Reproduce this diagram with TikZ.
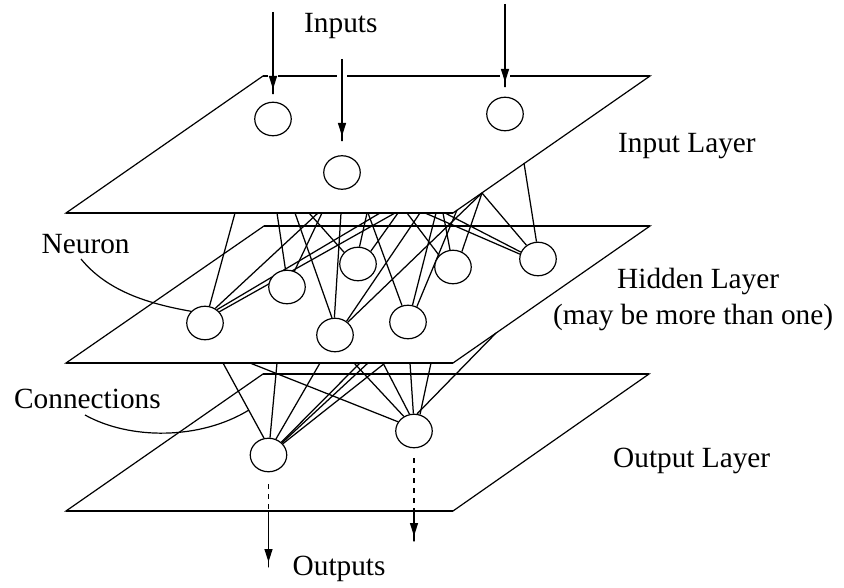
\documentclass[tikz,border=0pt]{standalone}
\usepackage{fontspec}
\setmainfont{Liberation Serif}
\usetikzlibrary{arrows.meta,shapes.geometric}
\pgfdeclarelayer{back}
\pgfdeclarelayer{mid}
\pgfsetlayers{back,mid,main}
\begin{document}
\begin{tikzpicture}[x=1pt,y=-1pt,
  neuron/.style={ellipse,draw,fill=white,minimum width=36.5pt,minimum height=33.5pt,inner sep=0pt,line width=1.2pt},
  plane/.style={draw,fill=white,line width=1.2pt,line join=miter},
  planeedge/.style={line width=2pt},
  conn/.style={line width=1.25pt},
  pointer/.style={line width=1.2pt},
  lbl/.style={font=\fontsize{29.3}{35}\selectfont,inner sep=0pt,anchor=base west},
  halo/.style={draw=white,line width=10pt},
  tiparrow/.style={line width=1.5pt,-{Triangle[width=8pt,length=13pt]Rectangle[width=1.5pt,length=6pt]}},
  outdots/.style={line width=1.3pt,dash pattern=on 5pt off 5pt}
]
\useasboundingbox (0,0) rectangle (844,588);

% planes
\begin{pgfonlayer}{back}
\path[plane] (66,511) -- (453,511) -- (649,374) -- (263,374) -- cycle;
\path[plane] (66,363) -- (453,363) -- (650,226) -- (264,226) -- cycle;
\path[plane] (66,213) -- (453,213) -- (650,76) -- (263,76) -- cycle;
\draw[planeedge] (66,511) -- (453,511) (649,374) -- (263,374);
\draw[planeedge] (66,363) -- (453,363) (650,226) -- (264,226);
\draw[planeedge] (66,213) -- (453,213) (650,76) -- (263,76);
\end{pgfonlayer}

% neurons
\node[neuron] (I1) at (273,119) {};
\node[neuron] (I2) at (342,172.5) {};
\node[neuron] (I3) at (505,114) {};
\node[neuron] (H1) at (205,323) {};
\node[neuron] (H2) at (287,287) {};
\node[neuron] (H3) at (358,264) {};
\node[neuron] (H4) at (453,267) {};
\node[neuron] (H5) at (538,259) {};
\node[neuron] (H6) at (335,335) {};
\node[neuron] (H7) at (408,322) {};
\node[neuron] (O1) at (268.5,455) {};
\node[neuron] (O2) at (414,431) {};

% connections
\begin{pgfonlayer}{mid}
\foreach \n/\x/\y/\t in {
  a1/235/213/H1.75, a2/318/213/H1.55, a3/380/213/H1.48, a4/395/213/H1.38,
  a5/277/213/H2.95, a6/322/213/H2.65,
  a7/309/213/H3.140, a8/367/213/H3.85, a9/398/213/H3.45,
  a10/407/213/H4.140, a11/443/213/H4.100, a12/482/193/H4.60,
  a13/524/163/H5.95, a14/482/193/H5.130, a15/425/213/H5.165, a16/445/213/H5.158,
  a17/295/213/H6.100, a18/341/213/H6.92, a19/420/213/H6.50, a20/482/193/H6.45,
  a21/368/213/H7.110, a22/436/213/H7.75, a23/457/210/H7.60,
  b1/223/363/O1.105, b2/277/363/O1.85, b3/320/363/O1.65,
  b4/360/363/O1.45, b5/368/363/O1.42, b6/385/363/O1.38,
  b7/250/363/O2.150, b8/354/363/O2.125, b9/383/363/O2.105,
  b10/410/363/O2.92, b11/431/363/O2.70, b12/496/333/O2.80}
{
  \coordinate (\n) at (\x,\y);
  \draw[conn] (\n) -- (\t);
}
% pointers
\coordinate (nstart) at (81,259);
\draw[pointer] (nstart) .. controls (108,292) and (150,304) .. (H1.140);
\coordinate (cstart) at (85,415);
\coordinate (cend) at (249,410);
\draw[pointer] (cstart) .. controls (130,440) and (200,440) .. (cend);
% output dotted parts
\coordinate (o1a) at (268.5,484);
\coordinate (o1b) at (268.5,511);
\coordinate (o2a) at (414,458);
\coordinate (o2b) at (414,511);
\draw[outdots] (o1a) -- (o1b);
\draw[outdots] (o2a) -- (o2b);
\end{pgfonlayer}

% input arrows
\coordinate (ia1) at (273,12);  \coordinate (ib1) at (273,95);
\coordinate (ia2) at (342,59);  \coordinate (ib2) at (342,142);
\coordinate (ia3) at (505,4);   \coordinate (ib3) at (505,88);
\foreach \i in {1,2,3}{
  \draw[halo] (ia\i) -- (ib\i);
  \draw[tiparrow] (ia\i) -- (ib\i);
}
% output arrows
\coordinate (oe1) at (268.5,568);
\coordinate (oe2) at (414,542);
\draw[tiparrow] (o1b) -- (oe1);
\draw[tiparrow] (o2b) -- (oe2);

% labels
\node[lbl] (tin) at (304,32.5) {Inputs};
\node[lbl] (tinl) at (618,153) {Input Layer};
\node[lbl] (tneu) at (41.5,254) {Neuron};
\node[lbl] (thid) at (617,289) {Hidden Layer};
\node[lbl] (tmay) at (553,325) {(may be more than one)};
\node[lbl] (tcon) at (14,408) {Connections};
\node[lbl] (toutl) at (613,467) {Output Layer};
\node[lbl] (tout) at (292.5,575) {Outputs};
\end{tikzpicture}
\end{document}
